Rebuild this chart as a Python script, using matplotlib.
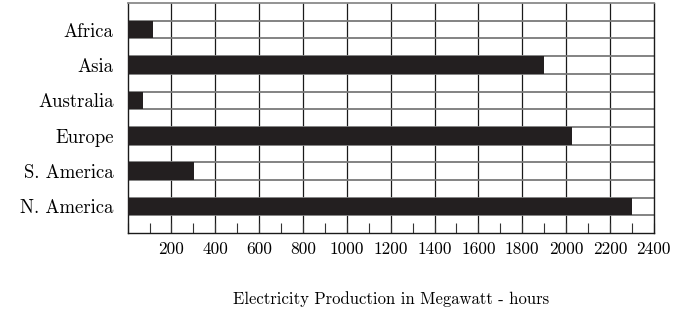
import numpy as np
import matplotlib
matplotlib.use("Agg")
import matplotlib.pyplot as plt
from matplotlib.ticker import MultipleLocator

# data (Megawatt-hours)
regions = ["Africa", "Asia", "Australia", "Europe", "S. America", "N. America"]
production = [118, 1900, 72, 2025, 302, 2300]
x_ticks = list(range(200, 2401, 200))

plt.rcParams["font.family"] = ["cmr10", "DejaVu Serif"]
plt.rcParams["axes.formatter.use_mathtext"] = True

fig = plt.figure(figsize=(6.86, 3.12), dpi=100)
ax = fig.add_axes([0.186, 0.253, 0.767, 0.737])

ypos = np.arange(len(regions))[::-1]
ax.barh(ypos, production, height=0.5, color="#231f20", zorder=3)

ax.set_xlim(0, 2400)
ax.set_ylim(-0.75, len(regions) - 0.25)

# grid: vertical every 200, horizontal at every bar edge
for x in range(200, 2400, 200):
    ax.axvline(x, color="#1a1a1a", lw=0.9, zorder=1)
for y in np.arange(-0.25, len(regions) - 0.5, 0.5):
    ax.axhline(y, color="#7a7a7a", lw=1.3, zorder=1)

ax.set_yticks(ypos)
ax.set_yticklabels(regions, fontsize=13.5)
ax.tick_params(axis="y", length=0, pad=10)

ax.set_xticks(x_ticks)
ax.set_xticklabels([str(v) for v in x_ticks], fontsize=12.5)
ax.xaxis.set_minor_locator(MultipleLocator(100))
ax.tick_params(axis="x", which="both", direction="in", length=7, width=0.8,
               color="#333333", pad=6)

for side in ["left", "right", "bottom"]:
    ax.spines[side].set_color("#1a1a1a")
    ax.spines[side].set_linewidth(1.0)
ax.spines["top"].set_color("#8a8a8a")
ax.spines["top"].set_linewidth(1.3)

ax.set_xlabel("Electricity Production in Megawatt - hours", fontsize=12, labelpad=25)

fig.savefig("out.png", dpi=100)
